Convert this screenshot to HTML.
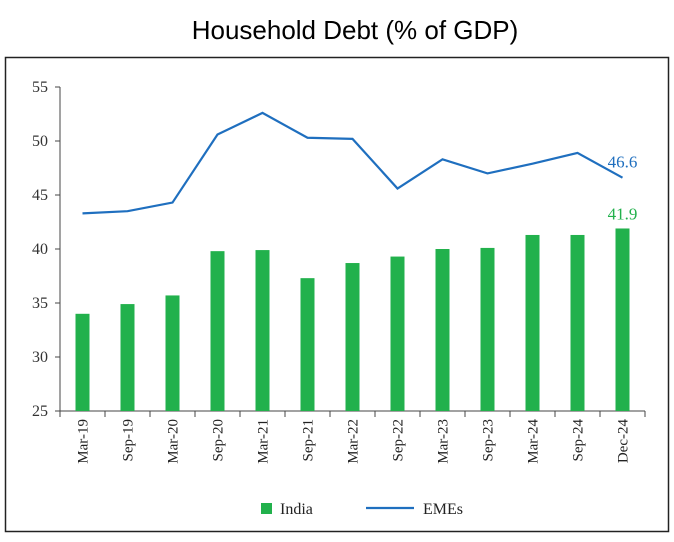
<!DOCTYPE html>
<html><head><meta charset="utf-8">
<style>
body{margin:0;background:#fff;width:674px;height:537px;overflow:hidden}
</style></head>
<body>
<svg id="chart" width="674" height="537" xmlns="http://www.w3.org/2000/svg">
<text x="355" y="39" text-anchor="middle" font-family="Liberation Sans, sans-serif" font-size="26" fill="#000">Household Debt (% of GDP)</text>
<rect x="5.5" y="57.5" width="663" height="474" fill="none" stroke="#222" stroke-width="1.5"/>
<g id="plot"></g>
</svg>
<script>
const categories=["Mar-19","Sep-19","Mar-20","Sep-20","Mar-21","Sep-21","Mar-22","Sep-22","Mar-23","Sep-23","Mar-24","Sep-24","Dec-24"];
const indiaValues=[34.0,34.9,35.7,39.8,39.9,37.3,38.7,39.3,40.0,40.1,41.3,41.3,41.9];
const emeValues=[43.3,43.5,44.3,50.6,52.6,50.3,50.2,45.6,48.3,47.0,47.9,48.9,46.6];
const yTicks=[25,30,35,40,45,50,55];

const NS="http://www.w3.org/2000/svg";
const g=document.getElementById('plot');
const x0=60,x1=645,yTop=87,yBot=411,yMin=25,yMax=55;
const step=(x1-x0)/categories.length;
const xc=i=>x0+step*(i+0.5);
const ys=v=>yBot-(v-yMin)/(yMax-yMin)*(yBot-yTop);
function el(t,a){const e=document.createElementNS(NS,t);for(const k in a)e.setAttribute(k,a[k]);g.appendChild(e);return e;}
const serif="Liberation Serif, serif";

let ax=el('line',{x1:x0,y1:yTop,x2:x0,y2:yBot,stroke:'#444','stroke-width':1});


let bx=el('line',{x1:x0,y1:yBot,x2:x1,y2:yBot,stroke:'#444','stroke-width':1});



yTicks.forEach(v=>{
  const y=ys(v);
  el('line',{x1:x0-5,y1:y,x2:x0,y2:y,stroke:'#444'});
  const t=el('text',{x:x0-12,y:y+5,'text-anchor':'end','font-family':serif,'font-size':16,fill:'#333'});
  t.textContent=v;
  
  
});
for(let i=0;i<=categories.length;i++){
  const x=x0+step*i;
  el('line',{x1:x,y1:yBot,x2:x,y2:yBot+6,stroke:'#444'});
}
categories.forEach((c,i)=>{
  const x=xc(i)+5,y=yBot+8;
  const t=el('text',{x:x,y:y,'text-anchor':'end','font-family':serif,'font-size':15,fill:'#222',transform:`rotate(-90 ${x} ${y})`});
  t.textContent=c;
  
  
});

indiaValues.forEach((v,i)=>{
  const r=el('rect',{x:xc(i)-7,y:ys(v),width:14,height:yBot-ys(v),fill:'#22b14c'});
  
  
});
const pts=emeValues.map((v,i)=>xc(i)+','+ys(v)).join(' ');
const pl=el('polyline',{points:pts,fill:'none',stroke:'#1f6fbf','stroke-width':2.2});



const n=categories.length-1;
const l1=el('text',{x:xc(n),y:ys(emeValues[n])-10,'text-anchor':'middle','font-family':serif,'font-size':17,fill:'#1f6fbf'});
l1.textContent=emeValues[n].toFixed(1);


const l2=el('text',{x:xc(n),y:ys(indiaValues[n])-9,'text-anchor':'middle','font-family':serif,'font-size':17,fill:'#22b14c'});
l2.textContent=indiaValues[n].toFixed(1);



const lr=el('rect',{x:261,y:503,width:11,height:11,fill:'#22b14c'});


const lt=el('text',{x:280,y:514,'font-family':serif,'font-size':16,fill:'#222'});
lt.textContent='India';


const ll=el('line',{x1:366,y1:508,x2:414,y2:508,stroke:'#1f6fbf','stroke-width':2.2});


const lt2=el('text',{x:423,y:514,'font-family':serif,'font-size':16,fill:'#222'});
lt2.textContent='EMEs';


</script>
</body></html>
